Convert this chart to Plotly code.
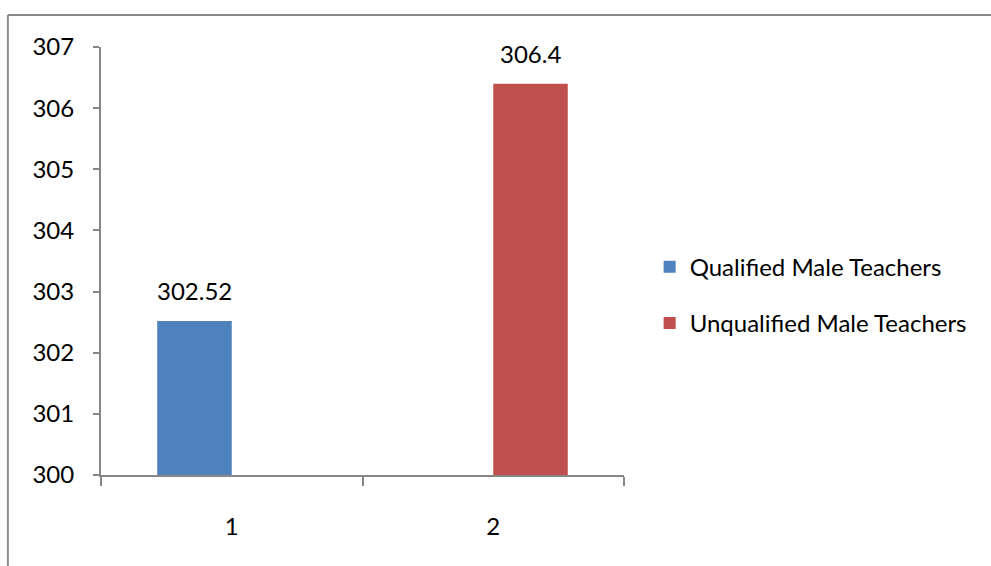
import plotly.graph_objects as go

# Average scores of male teachers by qualification
categories = ["1", "2"]
series_names = ["Qualified Male Teachers", "Unqualified Male Teachers"]
qualified = [302.52, None]
unqualified = [None, 306.4]
y_ticks = [300, 301, 302, 303, 304, 305, 306, 307]

colors = ["#4F81BD", "#C0504D"]
FONT = "Lato, 'Open Sans', sans-serif"
FS = 24
AXIS_GRAY = "#868686"

bar_gap = 0.43
bar_w = (1 - bar_gap) / 2

fig = go.Figure()
for i, (name, vals) in enumerate(zip(series_names, [qualified, unqualified])):
    fig.add_trace(go.Bar(
        name=name, x=categories, y=vals,
        marker=dict(color=colors[i], line=dict(width=0)),
        legendgroup=name,
    ))

# value labels above each bar
annotations = []
for i, vals in enumerate([qualified, unqualified]):
    for j, v in enumerate(vals):
        if v is None:
            continue
        xc = j + (i - 0.5) * bar_w
        annotations.append(dict(
            x=xc, y=v, xref="x", yref="y", text=f"{v:g}",
            showarrow=False, yanchor="bottom", yshift=14,
            font=dict(family=FONT, size=FS, color="#000000"),
        ))

fig.update_layout(
    width=991, height=566,
    margin=dict(l=101, r=367, t=47, b=91),
    paper_bgcolor="white", plot_bgcolor="white",
    barmode="group", bargap=bar_gap, bargroupgap=0,
    font=dict(family=FONT, size=FS, color="#000000"),
    showlegend=True,
    legend=dict(
        x=1.049, y=0.42, xanchor="left", yanchor="middle",
        font=dict(family=FONT, size=FS, color="#000000"),
        tracegroupgap=22, bgcolor="rgba(0,0,0,0)",
    ),
    annotations=annotations,
    shapes=[
        dict(type="line", xref="paper", yref="paper",
             x0=-0.178, x1=1.8, y0=1.075, y1=1.075,
             line=dict(color="#8C8C8C", width=2)),
        dict(type="line", xref="paper", yref="paper",
             x0=-0.178, x1=-0.178, y0=1.075, y1=-0.3,
             line=dict(color="#8C8C8C", width=2)),
    ],
    xaxis=dict(
        type="category", range=[-0.5, 1.5],
        showline=True, linecolor=AXIS_GRAY, linewidth=2,
        ticks="outside", tickson="boundaries", ticklen=9,
        tickcolor=AXIS_GRAY, tickwidth=2,
        showgrid=False, zeroline=False,
        ticklabelstandoff=29,
        tickfont=dict(family=FONT, size=FS, color="#000000"),
    ),
    yaxis=dict(
        range=[300, 307], tickvals=y_ticks,
        showline=True, linecolor=AXIS_GRAY, linewidth=2,
        ticks="outside", ticklen=6, tickcolor=AXIS_GRAY, tickwidth=2,
        showgrid=False, zeroline=False,
        ticklabelstandoff=14,
        tickfont=dict(family=FONT, size=FS, color="#000000"),
    ),
)

fig.write_html("out.html")
